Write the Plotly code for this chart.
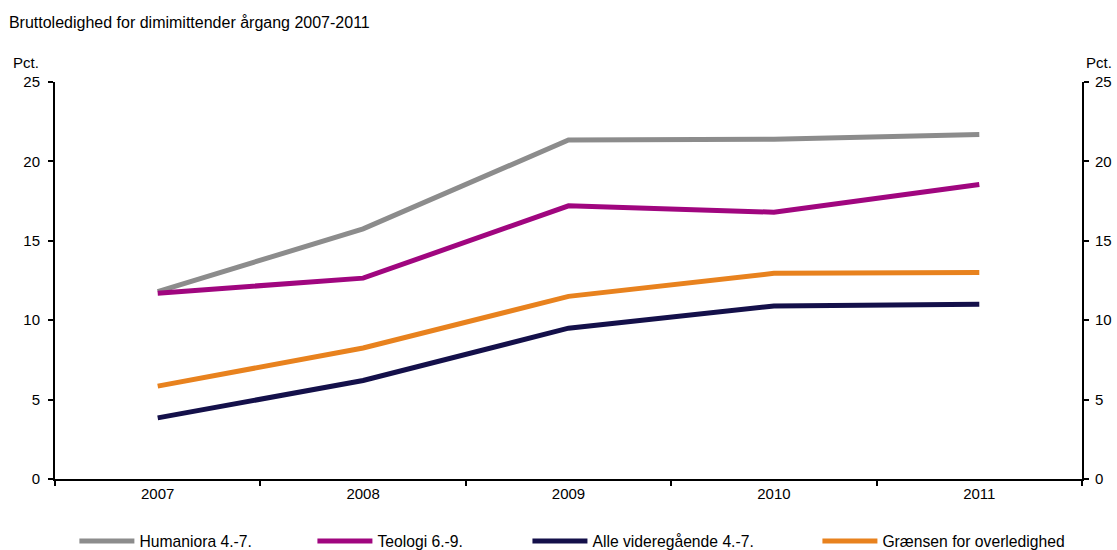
import plotly.graph_objects as go

years = ["2007", "2008", "2009", "2010", "2011"]
humaniora = [11.8, 15.75, 21.35, 21.4, 21.7]
teologi = [11.7, 12.65, 17.2, 16.8, 18.55]
alle = [3.85, 6.2, 9.5, 10.9, 11.0]
graensen = [5.85, 8.25, 11.5, 12.95, 13.0]

names = ["Humaniora 4.-7.", "Teologi 6.-9.", "Alle videregående 4.-7.", "Grænsen for overledighed"]
colors = ["#8c8c8c", "#a0067f", "#14104a", "#e8821e"]
series = [humaniora, teologi, alle, graensen]
legend_ids = ["legend", "legend2", "legend3", "legend4"]
legend_x = [0.0666, 0.2797, 0.4722, 0.7318]

font = "Liberation Sans, Arial, sans-serif"
fs = 15

fig = go.Figure()
for name, vals, col, lid in zip(names, series, colors, legend_ids):
    fig.add_trace(go.Scatter(x=years, y=vals, name=name, mode="lines", legend=lid,
                             line=dict(color=col, width=5)))
# invisible trace for the right axis
fig.add_trace(go.Scatter(x=years, y=humaniora, yaxis="y2", mode="lines",
                         line=dict(width=0), showlegend=False, hoverinfo="skip", opacity=0))

axis_common = dict(showline=True, linecolor="black", linewidth=2, ticks="outside", ticklen=5,
                   tickwidth=2, tickcolor="black", showgrid=False, zeroline=False)

legends = {}
for lid, lx in zip(legend_ids, legend_x):
    legends[lid] = dict(orientation="h", xref="container", yref="container", x=lx, xanchor="left",
                        y=0.016, yanchor="middle", font=dict(size=15.7), itemwidth=55,
                        bgcolor="rgba(0,0,0,0)")

fig.update_layout(
    width=1117, height=550,
    margin=dict(l=55, r=35, t=82, b=71),
    paper_bgcolor="white", plot_bgcolor="white",
    font=dict(family=font, size=fs, color="black"),
    title=dict(text="Bruttoledighed for dimimittender årgang 2007-2011", x=0.008, xanchor="left",
               y=0.96, yanchor="middle", font=dict(size=16)),
    xaxis=dict(type="category", range=[-0.5, 4.5], tickson="boundaries", **axis_common),
    yaxis=dict(range=[0, 25], tickvals=[0, 5, 10, 15, 20, 25], automargin=False,
               ticklabelstandoff=5, **axis_common),
    yaxis2=dict(range=[0, 25], tickvals=[0, 5, 10, 15, 20, 25], overlaying="y", side="right",
                automargin=False, ticklabelstandoff=3, **axis_common),
    showlegend=True,
    annotations=[
        dict(text="Pct.", xref="paper", yref="paper", x=-0.043, y=1.05, xanchor="left",
             yanchor="middle", showarrow=False, font=dict(size=fs)),
        dict(text="Pct.", xref="paper", yref="paper", x=1.002, y=1.05, xanchor="left",
             yanchor="middle", showarrow=False, font=dict(size=fs)),
    ],
    **legends,
)

fig.write_html("out.html", config={"displayModeBar": False},
               post_script="document.body.style.margin='0';")
